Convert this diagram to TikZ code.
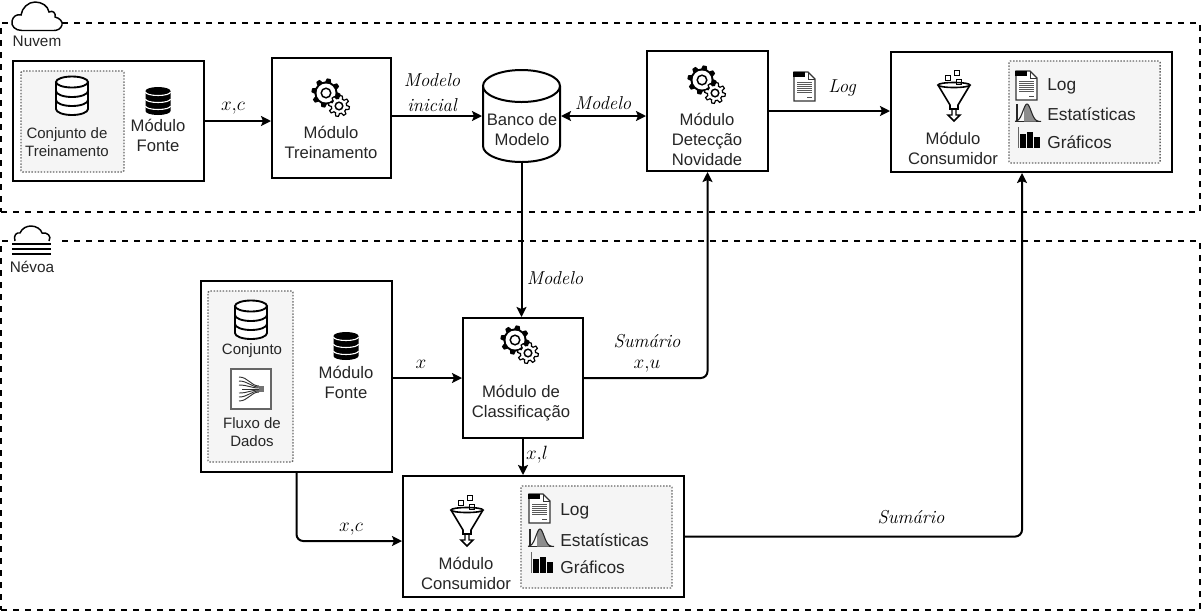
\documentclass[tikz,border=0pt]{standalone}
\usepackage{amsmath}
\usepackage{fontspec}
\setsansfont{Liberation Sans}
\usetikzlibrary{arrows.meta}

\tikzset{
  dbicon/.pic={
    \draw[line width=1.4pt,fill=white] (-16,-14) -- (-16,13) arc[start angle=180,end angle=0,x radius=16,y radius=6] -- (16,-14);
    \draw[line width=1.4pt,fill=white] (0,-14) ellipse[x radius=16,y radius=5.5];
    \draw[line width=1.4pt] (-16,-5) arc[start angle=180,end angle=0,x radius=16,y radius=6];
    \draw[line width=1.4pt] (-16,4) arc[start angle=180,end angle=0,x radius=16,y radius=6];
  },
  dbblack/.pic={
    \fill (-12.5,-10) -- (-12.5,10) arc[start angle=180,end angle=0,x radius=12.5,y radius=4] -- (12.5,-10) arc[start angle=0,end angle=-180,x radius=12.5,y radius=4] -- cycle;
    \draw[white,line width=.8pt] (-12.5,-9) arc[start angle=180,end angle=0,x radius=12.5,y radius=3.5];
    \draw[white,line width=.8pt] (-12.5,-2) arc[start angle=180,end angle=0,x radius=12.5,y radius=3.5];
    \draw[white,line width=.8pt] (-12.5,5) arc[start angle=180,end angle=0,x radius=12.5,y radius=3.5];
  },
  gearsicon/.pic={
    \fill[shift={(-5,-6)}] plot[domain=0:360,samples=97] ({(13+1.6*sign(sin(8*\x)))*cos(\x)},{(13+1.6*sign(sin(8*\x)))*sin(\x)}) -- cycle;
    \fill[white] (-5,-6) circle[radius=9.5];
    \draw[line width=1.1pt] (-5,-6) circle[radius=4.8];
    \draw[shift={(8,7)},fill=white,line width=.9pt] plot[domain=0:360,samples=97] ({(9+1.4*sign(sin(8*\x)))*cos(\x)},{(9+1.4*sign(sin(8*\x)))*sin(\x)}) -- cycle;
    \draw[line width=1.1pt] (8,7) circle[radius=3.8];
  },
  funnelicon/.pic={
    \draw[line width=1.2pt] (0,0) ellipse[x radius=16,y radius=2.5];
    \draw[line width=1.2pt] (-16,0) -- (-4,20) -- (-4,24) -- (4,24) -- (4,20) -- (16,0);
    \draw[line width=1.1pt] (-2,25) -- (-2,30) -- (-6,30) -- (0,36) -- (6,30) -- (2,30) -- (2,25);
    \draw[line width=1.2pt] (-8.5,-9.5) rectangle (-3.5,-4.5);
    \draw[line width=1.2pt] (.5,-14.5) rectangle (5.5,-9.5);
    \draw[line width=1.2pt] (2.5,-5.5) rectangle (7.5,-.5);
  },
  docicon/.pic={
    \draw[line width=.9pt,black!80,fill=white] (-10,-14) -- (4,-14) -- (11,-7) -- (11,15) -- (-10,15) -- cycle;
    \draw[line width=.7pt,black!80] (4,-14) -- (4,-7) -- (11,-7);
    \fill (-11,-14) rectangle (1,-9);
    \foreach \yy in {-4,-2,0,2,4,6}
      \draw[line width=.55pt,black!65] (-7,\yy) -- (8,\yy);
    \draw[line width=.7pt,black!70] (3,11) -- (8,11);
  },
  bellicon/.pic={
    \draw[line width=.8pt,black!85] (-11,-9) -- (-11,9);
    \draw[line width=.8pt,black!85] (-13,8.5) -- (13,8.5);
    \fill[black!45] plot[domain=-3:9,samples=15] ({\x-1},{8.5-17.5*exp(-(\x*\x)/32)}) -- (8,8.5) -- (-4,8.5) -- cycle;
    \draw[line width=.8pt,black!85] plot[domain=-12:14,samples=30] ({\x-1},{8.5-17.5*exp(-(\x*\x)/32)});
  },
  charticon/.pic={
    \draw[line width=.7pt,black!60] (-11,-12) -- (-11,9);
    \fill (-9,-5) rectangle (-3,9);
    \fill (-2,-7) rectangle (4,9);
    \fill (5,-2) rectangle (11,9);
  },
  flowicon/.pic={
    \fill[black!55] (8,-3) rectangle (13,3);
    \foreach \yy in {-12,-8,-4,4,8,12}
      \draw[line width=.7pt,black!80] (-12,\yy) .. controls (-3,\yy) and (0,\yy/4) .. (8,\yy/4);
    \draw[line width=.7pt,black!80] (-9,0) -- (8,0);
  }
}

\begin{document}
\begin{tikzpicture}[x=.75pt,y=-.75pt,>={Stealth[length=7.5pt,width=7.5pt,inset=1.5pt]},
  zone/.style={draw,line width=1.5pt,dash pattern=on 4.5pt off 4.5pt,inner sep=0pt},
  main box/.style={draw,line width=1.5pt,fill=white,inner sep=0pt},
  dot box/.style={draw=black!60,fill=black!4,dash pattern=on 1.1pt off 1.2pt,line width=1.1pt,rounded corners=1pt,inner sep=0pt},
  txt/.style={font=\sffamily\fontsize{12.5}{15}\selectfont,text=black!85,align=center,inner sep=0pt},
  small txt/.style={font=\sffamily\fontsize{11.25}{13.5}\selectfont,text=black!85,align=center,inner sep=0pt},
  list txt/.style={font=\sffamily\fontsize{13}{15}\selectfont,text=black!85,anchor=west,inner sep=0pt},
  lab/.style={font=\fontsize{14}{18.75}\selectfont\itshape,align=center,inner sep=0pt},
  link/.style={->,line width=1.5pt,rounded corners=5pt}]

  \useasboundingbox (0,0) rectangle (1202,612);

  % zones
  \node[zone,minimum width=899.25pt,minimum height=141.75pt] (nuvem) at (600.5,117.5) {};
  \node[zone,minimum width=899.25pt,minimum height=276.75pt] (nevoa) at (600.5,425.5) {};
  \draw[line width=1.1pt,fill=white] (22,30.5) .. controls (15,30.5) and (11,26) .. (12,21)
    .. controls (13,16) and (17,14) .. (21,15) .. controls (22,8) and (28,2) .. (35,2)
    .. controls (42,2) and (48,6) .. (49,12) .. controls (53,10) and (56,13) .. (55,17)
    .. controls (60,18) and (63,22) .. (62,25) .. controls (61,29) and (57,30.5) .. (54,30.5) -- cycle;
  \node[font=\sffamily\fontsize{11.5}{14}\selectfont,text=black!85,inner sep=0pt] (nuvemtxt) at (37,41) {Nuvem};
  \fill[white] (9,226) rectangle (61,258);
  \draw[line width=1.1pt] (15,241) .. controls (13,235) and (17,232) .. (20,233) .. controls (22,228) and (27,226) .. (31,226)
    .. controls (36,226) and (41,229) .. (42,233) .. controls (47,232) and (52,236) .. (49,241);
  \foreach \yy in {244,249,254}
    \draw[line width=1.1pt] (12,\yy) -- (51,\yy);
  \node[font=\sffamily\fontsize{11.5}{14}\selectfont,text=black!85,inner sep=0pt,fill=white] (nevoatxt) at (32,267) {Névoa};

  % nuvem
  \node[main box,minimum width=143.25pt,minimum height=90pt] (fonteA) at (108.5,121) {};
  \node[dot box,minimum width=77.25pt,minimum height=75.75pt] (setA) at (72.5,121.5) {};
  \pic at (72,96) {dbicon};
  \node[small txt] (setAtxt) at (67,142) {Conjunto de\\Treinamento};
  \pic at (158,101) {dbblack};
  \node[txt] (fonteAtxt) at (158,135) {Módulo\\Fonte};

  \node[main box,minimum width=89.25pt,minimum height=90pt] (treino) at (331.5,118) {};
  \pic at (331,99) {gearsicon};
  \node[txt] (treinotxt) at (331,142) {Módulo\\Treinamento};

  \node[inner sep=0pt,line width=1.5pt,minimum width=57.75pt,minimum height=69pt] (bank) at (521.5,116) {};
  \draw[line width=1.5pt,fill=white] (483,86) -- (483,146) arc[start angle=180,end angle=0,x radius=38.5,y radius=16] -- (560,86);
  \draw[line width=1.5pt,fill=white] (521.5,86) ellipse[x radius=38.5,y radius=16];
  \node[txt] (banktxt) at (522,130) {Banco de\\Modelo};

  \node[main box,minimum width=90.75pt,minimum height=90pt] (detect) at (707.5,111) {};
  \pic at (707,86) {gearsicon};
  \node[txt] (detecttxt) at (707,139) {Módulo\\Detecção\\Novidade};

  \node[main box,minimum width=210.75pt,minimum height=90pt] (consA) at (1031.5,112) {};
  \node[dot box,minimum width=113.25pt,minimum height=76.5pt] (listA) at (1084.5,112) {};
  \pic at (954,85) {funnelicon};
  \node[txt] (consAtxt) at (953,148) {Módulo\\Consumidor};
  \pic at (1026,85) {docicon};
  \pic at (1028,113) {bellicon};
  \pic at (1029,139) {charticon};
  \node[list txt] (logA) at (1047,86.5) {Log};
  \node[list txt] (statA) at (1047,114) {Estatísticas};
  \node[list txt] (grafA) at (1047,142) {Gráficos};
  \pic at (804,86) {docicon};

  % nevoa
  \node[main box,minimum width=143.25pt,minimum height=143.25pt] (fonteB) at (296.5,376.5) {};
  \node[dot box,minimum width=63.75pt,minimum height=128.25pt] (setB) at (250.5,376.5) {};
  \pic at (251,320) {dbicon};
  \node[small txt] (setBtxt) at (252,351) {Conjunto};
  \node[draw=black!60,line width=1.2pt,fill=white,minimum size=30pt,inner sep=0pt] (flow) at (251,389) {};
  \pic at (251,389) {flowicon};
  \node[small txt] (flowtxt) at (252,432) {Fluxo de\\Dados};
  \pic at (346,346) {dbblack};
  \node[txt] (fonteBtxt) at (346,382) {Módulo\\Fonte};

  \node[main box,minimum width=90pt,minimum height=90pt] (classif) at (523,378) {};
  \pic at (520,346) {gearsicon};
  \node[txt] (classiftxt) at (521,403.5) {Módulo de\\Classificação};

  \node[main box,minimum width=210.75pt,minimum height=90.75pt] (consB) at (543.5,536.5) {};
  \node[dot box,minimum width=113.25pt,minimum height=76.5pt] (listB) at (596.5,537) {};
  \pic at (467,510) {funnelicon};
  \node[txt] (consBtxt) at (466,573) {Módulo\\Consumidor};
  \pic at (539,508) {docicon};
  \pic at (541,538) {bellicon};
  \pic at (542,564) {charticon};
  \node[list txt] (logB) at (560,511) {Log};
  \node[list txt] (statB) at (560,540) {Estatísticas};
  \node[list txt] (grafB) at (560,567) {Gráficos};

  % ligacoes
  \draw[link] (fonteA.east) -- (fonteA.east -| treino.west);
  \draw[link] (treino.east |- bank.west) -- (bank.west);
  \draw[link,<->] (bank.east) -- (bank.east -| detect.west);
  \draw[link] (detect.east) -- (detect.east -| consA.west);
  \draw[link] (bank.south) -- (bank.south |- classif.north);
  \draw[link] (fonteB.east |- classif.west) -- (classif.west);
  \draw[link] (classif.east) -| (detect.south);
  \draw[link] (classif.south) -- (classif.south |- consB.north);
  \draw[link] (fonteB.south) |- (consB.west |- 0,541);
  \draw[link] (consB.east) -| (consA.south -| 1022,0);

  \node[lab] (l1) at (233,108) {$x{,}c$};
  \node[lab] (l2) at (432,93) {Modelo\\inicial};
  \node[lab] (l3) at (603,103) {Modelo};
  \node[lab] (l4) at (842,88) {Log};
  \node[lab] (l5) at (555,278) {Modelo};
  \node[lab] (l6) at (647,341) {Sumário};
  \node[lab] (l7) at (647,366) {$x{,}u$};
  \node[lab] (l8) at (421,364) {$x$};
  \node[lab] (l9) at (537,455) {$x{,}l$};
  \node[lab] (l10) at (351,529) {$x{,}c$};
  \node[lab] (l11) at (911,517) {Sumário};
\end{tikzpicture}
\end{document}
